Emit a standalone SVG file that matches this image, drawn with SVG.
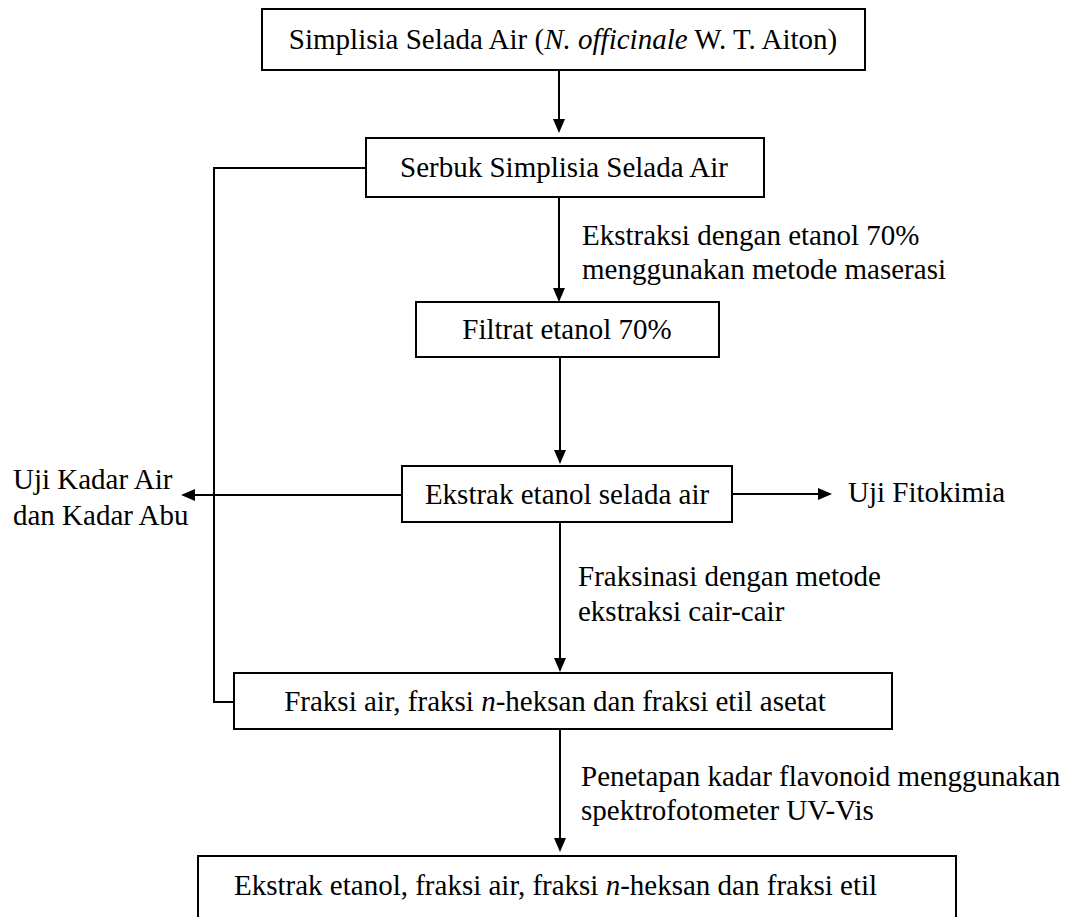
<svg xmlns="http://www.w3.org/2000/svg" width="1070" height="917" viewBox="0 0 1070 917">
<style>
.box{fill:#fff;stroke:#000;stroke-width:2}
.t{font-family:"Liberation Serif","Times New Roman",serif;font-size:29px;fill:#000}
.c{text-anchor:middle}
.i{font-style:italic}
.ln{fill:none;stroke:#000;stroke-width:2}
.ar{fill:none;stroke:#000;stroke-width:2;marker-end:url(#ah)}
</style>
<defs>
<marker id="ah" viewBox="0 0 14 12" refX="12" refY="6" markerWidth="14" markerHeight="12" markerUnits="userSpaceOnUse" orient="auto">
<path d="M0,0 L14,6 L0,12 z" fill="#000"/>
</marker>
</defs>
<rect width="1070" height="917" fill="#fff"/>
<g id="connectors">
<line class="ar" x1="559" y1="70" x2="559" y2="131"/>
<line class="ar" x1="559" y1="197" x2="559" y2="300"/>
<line class="ar" x1="560" y1="357" x2="560" y2="462"/>
<line class="ar" x1="402" y1="495" x2="183" y2="495"/>
<line class="ar" x1="732" y1="494" x2="830" y2="494"/>
<line class="ar" x1="560" y1="522" x2="560" y2="670"/>
<line class="ar" x1="560" y1="729" x2="560" y2="850"/>
<polyline class="ln" points="366,168 214,168 214,702 234,702"/>
<text class="t" x="582" y="245">Ekstraksi dengan etanol 70%</text>
<text class="t" x="582" y="279">menggunakan metode maserasi</text>
<text class="t" x="578" y="586">Fraksinasi dengan metode</text>
<text class="t" x="578" y="621">ekstraksi cair-cair</text>
<text class="t" x="581" y="786">Penetapan kadar flavonoid menggunakan</text>
<text class="t" x="581" y="820">spektrofotometer UV-Vis</text>
</g>
<g id="n1">
<rect class="box" x="262" y="9" width="603" height="61"/>
<text class="t c" x="563" y="49">Simplisia Selada Air (<tspan class="i">N. officinale</tspan> W. T. Aiton)</text>
</g>
<g id="n2">
<rect class="box" x="366" y="138" width="398" height="59"/>
<text class="t c" x="564" y="177">Serbuk Simplisia Selada Air</text>
</g>
<g id="n3">
<rect class="box" x="416" y="302" width="303" height="55"/>
<text class="t c" x="567" y="339">Filtrat etanol 70%</text>
</g>
<g id="n4">
<rect class="box" x="402" y="466" width="330" height="56"/>
<text class="t c" x="567" y="504">Ekstrak etanol selada air</text>
</g>
<g id="n5">
<text class="t" x="13" y="489">Uji Kadar Air</text>
<text class="t" x="13" y="525">dan Kadar Abu</text>
</g>
<g id="n6">
<text class="t" x="848" y="502">Uji Fitokimia</text>
</g>
<g id="n7">
<rect class="box" x="234" y="673" width="658" height="56"/>
<text class="t c" x="555" y="711">Fraksi air, fraksi <tspan class="i">n</tspan>-heksan dan fraksi etil asetat</text>
</g>
<g id="n8">
<rect class="box" x="198" y="856" width="758" height="90"/>
<text class="t" x="234" y="895">Ekstrak etanol, fraksi air, fraksi <tspan class="i">n</tspan>-heksan dan fraksi etil</text>
</g>
</svg>
